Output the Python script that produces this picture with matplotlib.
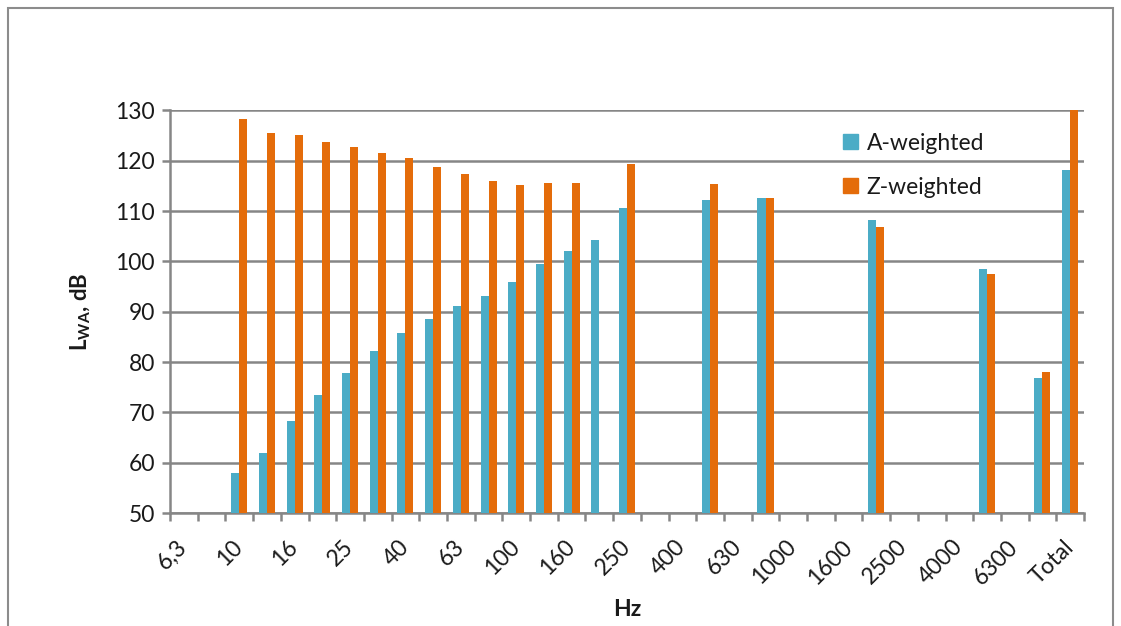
import numpy as np
import matplotlib.pyplot as plt
from matplotlib.patches import Patch, Rectangle

plt.rcParams['font.family'] = ['Lato', 'DejaVu Sans']
plt.rcParams['mathtext.fontset'] = 'custom'
plt.rcParams['mathtext.rm'] = 'Lato'
plt.rcParams['mathtext.bf'] = 'Lato:bold'

# one-third octave bands plus the total level
bands = ['6,3', '8', '10', '12,5', '16', '20', '25', '31,5', '40', '50', '63', '80',
         '100', '125', '160', '200', '250', '315', '400', '500', '630', '800',
         '1000', '1250', '1600', '2000', '2500', '3150', '4000', '5000', '6300',
         '8000', 'Total']
nan = np.nan
a_weighted = [nan, nan, 58.0, 62.0, 68.2, 73.5, 77.8, 82.1, 85.8, 88.6, 91.1, 93.2,
              96.0, 99.4, 102.0, 104.2, 110.6, nan, nan, 112.2, nan, 112.6,
              nan, nan, nan, 108.2, nan, nan, nan, 98.4, nan, 76.9, 118.1]
z_weighted = [nan, nan, 128.4, 125.5, 125.1, 123.8, 122.7, 121.6, 120.5, 118.8, 117.4, 115.9,
              115.1, 115.6, 115.6, nan, 119.3, nan, nan, 115.4, nan, 112.6,
              nan, nan, nan, 106.9, nan, nan, nan, 97.5, nan, 78.0, 130.6]

BLUE = '#4bacc6'
ORANGE = '#e46c0a'
GRID = '#868686'
TEXT = '#1a1a1a'

fig = plt.figure(figsize=(11.21, 6.26), dpi=100)
ax = fig.add_axes([0.1517, 0.1805, 0.967 - 0.1517, 0.8235 - 0.1805])

# chart border
fig.patches.append(Rectangle((8 / 1121, -0.1), (1113 - 8) / 1121, 1.1 - 8 / 626,
                             transform=fig.transFigure, fill=False,
                             edgecolor='#8c8c8c', linewidth=1.5))

x = np.arange(len(bands)) + 0.5
w = 0.29
ax.bar(x - w / 2, a_weighted, w, color=BLUE, zorder=3)
ax.bar(x + w / 2, z_weighted, w, color=ORANGE, zorder=3)

ax.set_ylim(50, 130)
ax.set_xlim(0, len(bands))
ax.set_yticks(np.arange(50, 131, 10))
ax.yaxis.grid(True, color=GRID, linewidth=1.8, zorder=0)

ax.set_xticks(x[::2])
ax.set_xticklabels(bands[::2], rotation=45, ha='right', va='center',
                   rotation_mode='anchor', fontsize=16.5, color=TEXT)
ax.set_xticks(np.arange(len(bands) + 1), minor=True)
ax.tick_params(axis='x', which='major', length=0, pad=22)
ax.tick_params(axis='x', which='minor', length=6, width=1.8, color=GRID)
ax.tick_params(axis='y', length=6, width=1.8, color=GRID, labelsize=16.5,
               labelcolor=TEXT, pad=5)

for side in ['top', 'right']:
    ax.spines[side].set_visible(False)
for side in ['left', 'bottom']:
    ax.spines[side].set_color(GRID)
    ax.spines[side].set_linewidth(1.8)

ax.set_ylabel(r'$\mathbf{L_{WA}}$, dB', fontsize=16, fontweight='bold', labelpad=16, color=TEXT)
ax.set_xlabel('Hz', fontsize=16.5, fontweight='bold', labelpad=8, color=TEXT)

handles = [Patch(color=BLUE, label='A-weighted'), Patch(color=ORANGE, label='Z-weighted')]
fig.legend(handles=handles, loc='upper left', bbox_to_anchor=(822 / 1121, 1 - 112 / 626),
           frameon=False, fontsize=16.5, handlelength=0.65, handleheight=0.65,
           handletextpad=0.4, labelspacing=1.0)
for t in fig.legends[0].get_texts():
    t.set_color(TEXT)

fig.savefig('out.png', dpi=100)
